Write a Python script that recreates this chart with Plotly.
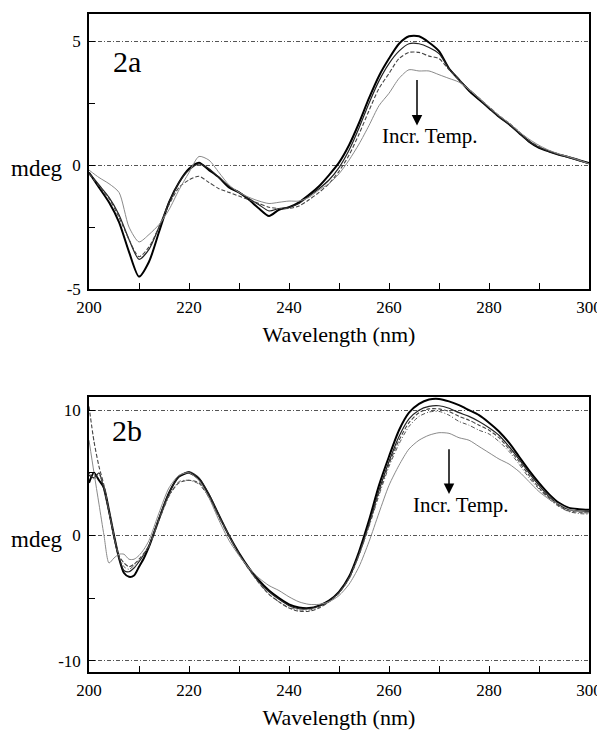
import plotly.graph_objects as go

# ---------------- Data: panel 2a ----------------
wl_a = [200, 202, 204, 206, 208, 210, 212, 214, 216, 218, 220, 222, 224, 226, 228,
        230, 232, 234, 236, 238, 240, 242, 244, 246, 248, 250, 252, 254, 256, 258,
        260, 262, 264, 266, 268, 270, 272, 274, 276, 278, 280, 282, 284, 286, 288,
        290, 292, 294, 296, 298, 300]

a1 = [-0.3, -0.9, -1.5, -2.3, -3.5, -4.5, -3.9, -2.7, -1.5, -0.7, -0.15, 0.1, -0.2, -0.5, -0.9,
      -1.1, -1.4, -1.75, -2.05, -1.8, -1.7, -1.5, -1.2, -0.85, -0.4, 0.1, 0.8, 1.7, 2.7, 3.6,
      4.3, 4.9, 5.2, 5.2, 4.95, 4.6, 3.9, 3.45, 3.0, 2.65, 2.3, 1.95, 1.65, 1.3, 0.95,
      0.7, 0.55, 0.42, 0.32, 0.2, 0.08]
a2 = [-0.3, -0.8, -1.3, -2.0, -3.0, -3.8, -3.4, -2.5, -1.5, -0.7, -0.2, 0.05, -0.15, -0.5, -0.85,
      -1.1, -1.35, -1.6, -1.85, -1.75, -1.7, -1.55, -1.25, -0.95, -0.6, -0.1, 0.6, 1.5, 2.5, 3.4,
      4.1, 4.6, 4.9, 4.9, 4.75, 4.5, 3.9, 3.45, 3.05, 2.7, 2.3, 1.95, 1.65, 1.3, 0.95,
      0.72, 0.55, 0.42, 0.3, 0.18, 0.06]
a3 = [-0.35, -0.85, -1.35, -2.1, -3.0, -3.7, -3.3, -2.5, -1.6, -0.9, -0.6, -0.45, -0.7, -0.95, -1.1,
      -1.25, -1.4, -1.55, -1.7, -1.75, -1.75, -1.65, -1.4, -1.1, -0.75, -0.25, 0.4, 1.25, 2.2, 3.1,
      3.7, 4.3, 4.55, 4.55, 4.4, 4.3, 3.85, 3.45, 3.05, 2.7, 2.35, 2.0, 1.7, 1.35, 1.0,
      0.75, 0.58, 0.45, 0.33, 0.2, 0.05]
a4 = [-0.2, -0.5, -0.75, -1.1, -2.5, -3.1, -2.8, -2.4, -1.8, -1.0, -0.3, 0.35, 0.2, -0.3, -0.8,
      -1.1, -1.3, -1.45, -1.55, -1.5, -1.45, -1.45, -1.3, -1.0, -0.75, -0.35, 0.2, 0.85, 1.6, 2.4,
      2.9, 3.5, 3.85, 3.8, 3.8, 3.65, 3.5, 3.35, 3.05, 2.7, 2.35, 2.0, 1.7, 1.35, 1.05,
      0.8, 0.6, 0.45, 0.33, 0.2, 0.06]

# ---------------- Data: panel 2b ----------------
wl_b = [200, 201, 202, 203, 204, 205, 206, 207, 208, 209, 210, 211, 212, 214, 216, 218, 220,
        222, 224, 226, 228, 230, 232, 234, 236, 238, 240, 242, 244, 246, 248, 250, 252, 254,
        256, 258, 260, 262, 264, 266, 268, 270, 272, 274, 276, 278, 280, 282, 284, 286, 288,
        290, 292, 294, 296, 298, 300]

b1 = [4.2, 5.0, 4.4, 3.8, 2.0, 0.0, -1.8, -3.0, -3.3, -3.2, -2.5, -1.8, -0.9, 1.3, 3.4, 4.7, 5.0,
      4.5, 3.2, 1.6, 0.0, -1.4, -2.6, -3.6, -4.4, -5.0, -5.5, -5.75, -5.8, -5.6, -5.2, -4.5, -3.3, -1.3,
      1.2, 4.0, 6.3, 8.4, 9.8, 10.5, 10.85, 10.9, 10.7, 10.4, 10.0, 9.6, 9.0, 8.3, 7.4, 6.3, 5.2,
      4.2, 3.3, 2.6, 2.2, 2.1, 2.05]
b2 = [4.8, 4.6, 5.0, 3.6, 1.8, -0.2, -1.8, -2.8, -2.9, -2.6, -2.1, -1.5, -0.8, 1.4, 3.4, 4.7, 5.1,
      4.6, 3.3, 1.6, 0.0, -1.45, -2.65, -3.7, -4.5, -5.1, -5.6, -5.85, -5.85, -5.65, -5.25, -4.55, -3.4, -1.5,
      0.9, 3.6, 5.9, 7.9, 9.3, 10.0, 10.3, 10.35, 10.15, 9.8, 9.5, 9.1, 8.6, 8.0, 7.1, 6.1, 5.0,
      4.0, 3.1, 2.45, 2.05, 1.95, 1.9]
b3 = [10.3, 7.5, 5.5, 4.0, 2.0, 0.0, -1.6, -2.2, -2.5, -2.3, -1.9, -1.4, -0.8, 1.3, 3.2, 4.2, 4.4,
      4.2, 3.1, 1.5, 0.0, -1.5, -2.7, -3.8, -4.7, -5.3, -5.8, -6.05, -6.05, -5.8, -5.3, -4.6, -3.4, -1.5,
      0.8, 3.4, 5.7, 7.6, 9.0, 9.8, 10.1, 10.1, 9.9, 9.5, 9.2, 8.8, 8.4, 7.8, 6.9, 5.9, 4.8,
      3.8, 3.0, 2.35, 1.95, 1.85, 1.8]
b4 = [5.0, 4.5, 4.8, 3.9, 1.9, -0.1, -1.7, -2.5, -2.7, -2.4, -2.0, -1.5, -0.9, 1.2, 3.1, 4.3, 4.4,
      4.1, 3.0, 1.4, -0.1, -1.55, -2.75, -3.8, -4.7, -5.3, -5.75, -5.95, -5.95, -5.75, -5.3, -4.6, -3.5, -1.6,
      0.7, 3.2, 5.5, 7.3, 8.7, 9.5, 9.85, 9.9, 9.6, 9.1, 8.8, 8.4, 8.1, 7.5, 6.7, 5.7, 4.6,
      3.7, 2.9, 2.3, 1.9, 1.75, 1.7]
b5 = [7.6, 5.0, 2.5, 0.0, -2.2, -1.8, -1.5, -1.5, -1.9, -1.9, -1.6, -1.1, -0.4, 1.8, 3.8, 4.8, 5.0,
      4.4, 3.0, 1.2, -0.4, -1.6, -2.6, -3.4, -4.0, -4.4, -4.9, -5.3, -5.5, -5.5, -5.3, -4.8, -3.9, -2.5,
      -0.5, 1.8, 4.0, 5.6, 6.9, 7.6, 8.0, 8.2, 8.15, 7.8, 7.6, 7.1, 6.6, 6.1, 5.7, 5.1, 4.3,
      3.5, 2.9, 2.5, 2.1, 1.9, 1.85]

# tick labels
xticks = [200, 220, 240, 260, 280, 300]
yticks_a = [-5, 0, 5]
ylabels_a = ["-5", "0", "5"]
yminor_a = [-2.5, 2.5]
yticks_b = [-10, 0, 10]
ylabels_b = ["-10", "0", "10"]
yminor_b = [-5, 5]

# the page body has an 8px margin: figure is sized/positioned to compensate
OFF = 8
W, H = 605 - OFF, 732 - OFF
FONT = "Liberation Serif, Times New Roman, serif"

def dx(px0, px1):
    return [(px0 - OFF) / W, (px1 - OFF) / W]

def dy(top, bottom):
    return [1 - (bottom - OFF) / H, 1 - (top - OFF) / H]

styles = [
    dict(color="#000000", width=2.0, dash="solid"),
    dict(color="#222222", width=1.2, dash="solid"),
    dict(color="#444444", width=1.1, dash="4px,2px"),
    dict(color="#555555", width=1.0, dash="4px,2px,1px,2px"),
    dict(color="#8a8a8a", width=1.0, dash="solid"),
]

fig = go.Figure()
for ys, st in zip([a1, a2, a3, a4], [styles[0], styles[1], styles[2], styles[4]]):
    fig.add_trace(go.Scatter(x=wl_a, y=ys, mode="lines", xaxis="x", yaxis="y",
                             line=dict(shape="spline", smoothing=0.7, **st), showlegend=False))
for ys, st in zip([b1, b2, b3, b4, b5], styles):
    fig.add_trace(go.Scatter(x=wl_b, y=ys, mode="lines", xaxis="x2", yaxis="y2",
                             line=dict(shape="spline", smoothing=0.7, **st), showlegend=False))

def xax(anchor, domain):
    return dict(domain=domain, anchor=anchor, range=[200, 300], tickvals=xticks,
                ticks="inside", ticklen=6, tickcolor="black", tickwidth=1,
                minor=dict(dtick=10, tick0=200, ticks="inside", ticklen=6, tickcolor="black"),
                showline=True, mirror=True, linecolor="black", linewidth=1.5,
                showgrid=False, zeroline=False, ticklabelstandoff=2, automargin=False,
                tickfont=dict(family=FONT, size=17, color="black"),
                title=dict(text="Wavelength (nm)", font=dict(family=FONT, size=22, color="black"),
                           standoff=10))

def yax(anchor, domain, rng, tv, tt, mv):
    return dict(domain=domain, anchor=anchor, range=rng, tickvals=tv, ticktext=tt,
                ticks="inside", ticklen=6, tickcolor="black",
                minor=dict(tickvals=mv, ticks="inside", ticklen=6, tickcolor="black", showgrid=False),
                showline=True, mirror=True, linecolor="black", linewidth=1.5,
                showgrid=True, gridcolor="#555555", gridwidth=1, griddash="4px,2px,1px,2px",
                zeroline=False, ticklabelstandoff=3, automargin=False,
                tickfont=dict(family=FONT, size=17, color="black"))

fig.update_layout(
    width=W, height=H, margin=dict(l=0, r=0, t=0, b=0, autoexpand=False),
    paper_bgcolor="white", plot_bgcolor="white",
    font=dict(family=FONT, color="black"),
    xaxis=xax("y", dx(89, 589)),
    yaxis=yax("x", dy(14, 289), [-5, 6.1], yticks_a, ylabels_a, yminor_a),
    xaxis2=xax("y2", dx(89, 589)),
    yaxis2=yax("x2", dy(397, 672), [-10.9, 11.05], yticks_b, ylabels_b, yminor_b),
)

ann = []
ann.append(dict(text="2a", x=207.6, y=4.2, xref="x", yref="y", showarrow=False,
                font=dict(family=FONT, size=30, color="black")))
ann.append(dict(text="2b", x=207.6, y=8.4, xref="x2", yref="y2", showarrow=False,
                font=dict(family=FONT, size=30, color="black")))
ann.append(dict(text="Incr. Temp.", x=268.1, y=1.17, xref="x", yref="y", showarrow=False,
                font=dict(family=FONT, size=21, color="black")))
ann.append(dict(text="Incr. Temp.", x=274.3, y=2.4, xref="x2", yref="y2", showarrow=False,
                font=dict(family=FONT, size=21, color="black")))
ann.append(dict(text="", x=265.6, y=1.6, ax=265.6, ay=3.5, xref="x", yref="y",
                axref="x", ayref="y", showarrow=True, arrowhead=2, arrowsize=1.4,
                arrowwidth=1.5, arrowcolor="black", standoff=0))
ann.append(dict(text="", x=272.0, y=3.3, ax=272.0, ay=7.0, xref="x2", yref="y2",
                axref="x2", ayref="y2", showarrow=True, arrowhead=2, arrowsize=1.4,
                arrowwidth=1.5, arrowcolor="black", standoff=0))
ann.append(dict(text="mdeg", x=(37 - OFF) / W, y=1 - (168 - OFF) / H, xref="paper", yref="paper",
                xanchor="center", yanchor="middle",
                showarrow=False, font=dict(family=FONT, size=23, color="black")))
ann.append(dict(text="mdeg", x=(37 - OFF) / W, y=1 - (539 - OFF) / H, xref="paper", yref="paper",
                xanchor="center", yanchor="middle",
                showarrow=False, font=dict(family=FONT, size=23, color="black")))
fig.update_layout(annotations=ann)

fig.write_html("out.html")
